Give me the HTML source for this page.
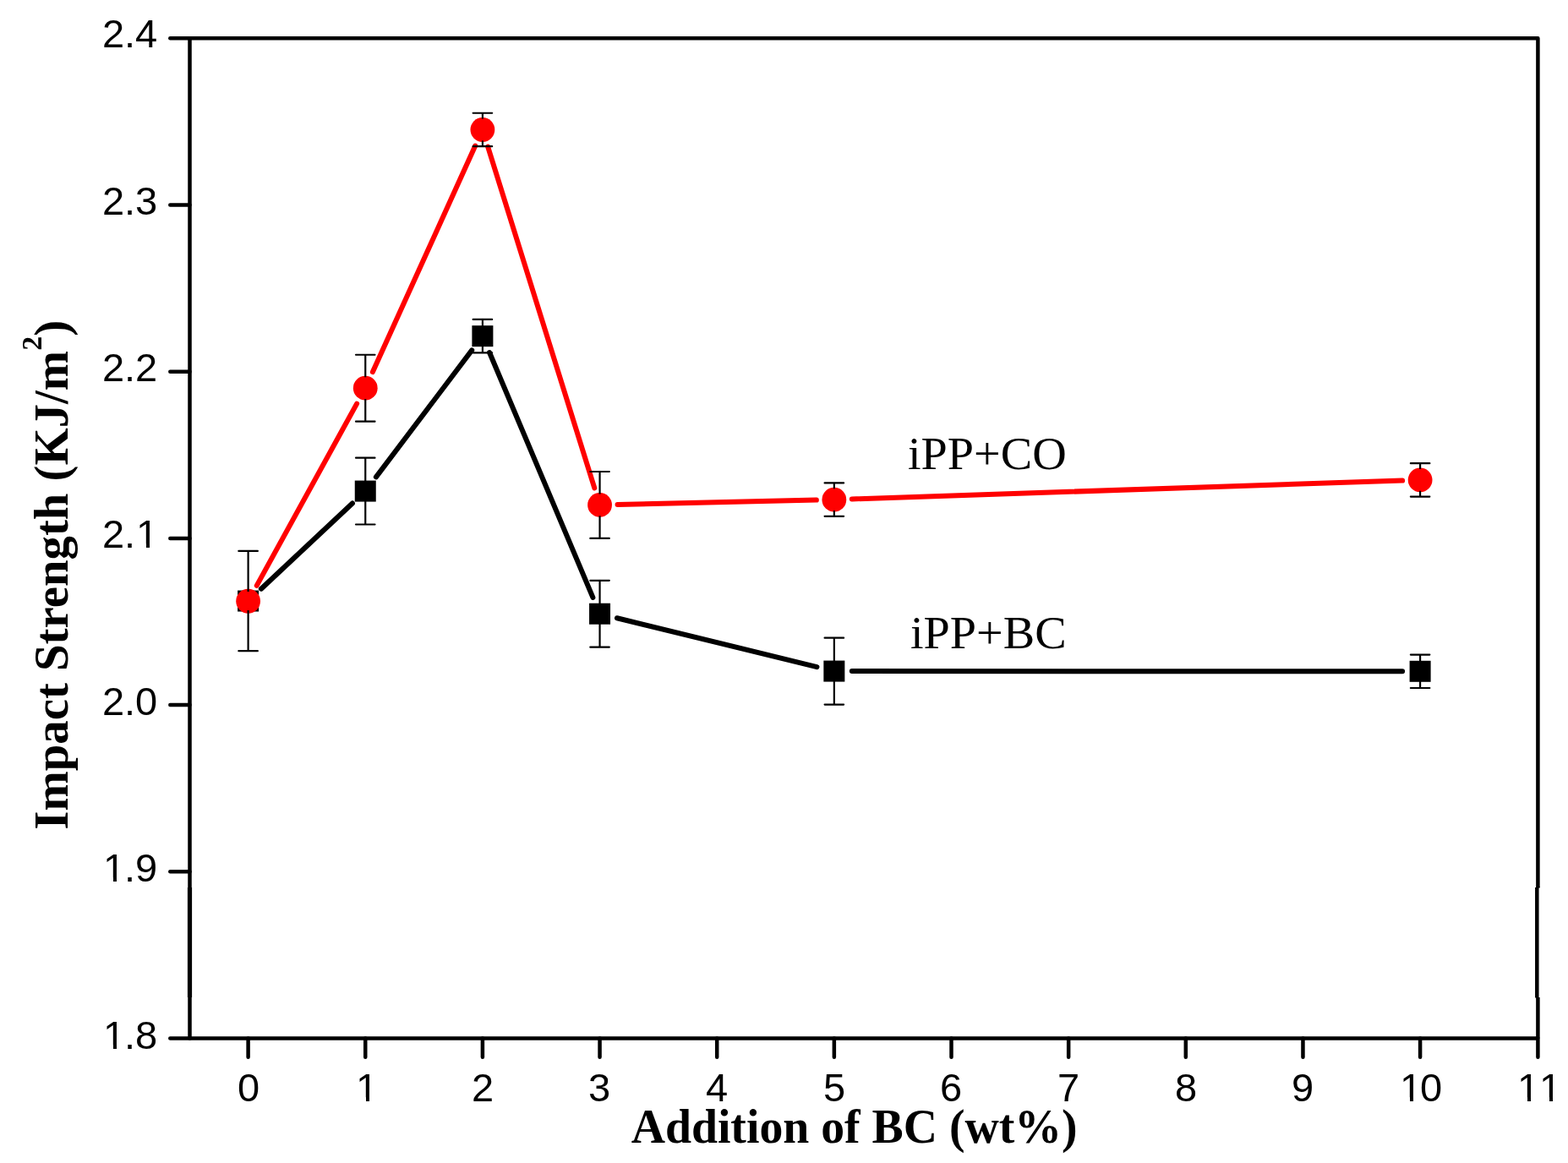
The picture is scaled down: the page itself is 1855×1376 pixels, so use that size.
<!DOCTYPE html>
<html><head><meta charset="utf-8"><title>Impact Strength</title>
<style>html,body{margin:0;padding:0;background:#fff;overflow:hidden;}svg{display:block;}</style></head>
<body>
<svg width="1855" height="1376" viewBox="0 0 1855 1376"><path d="M224.5 45.2H1819.4V1050M1819.4 1228.58H224.5V45.2" fill="none" stroke="#000" stroke-width="4.5" stroke-linejoin="round"/>
<path d="M1819.4 1049V1050.5M1818.3 1050V1180.5M1819.4 1180V1228.58" fill="none" stroke="#000" stroke-width="4.5"/>
<rect x="221.9" y="1050" width="5.2" height="130" fill="#000"/>
<g stroke="#000" stroke-width="4.5" stroke-linecap="round"><line x1="201.3" y1="1228.58" x2="224.5" y2="1228.58"/><line x1="201.3" y1="1031.35" x2="224.5" y2="1031.35"/><line x1="201.3" y1="834.12" x2="224.5" y2="834.12"/><line x1="201.3" y1="636.89" x2="224.5" y2="636.89"/><line x1="201.3" y1="439.66" x2="224.5" y2="439.66"/><line x1="201.3" y1="242.43" x2="224.5" y2="242.43"/><line x1="201.3" y1="45.2" x2="224.5" y2="45.2"/><line x1="293.6" y1="1228.58" x2="293.6" y2="1250.78"/><line x1="432.25" y1="1228.58" x2="432.25" y2="1250.78"/><line x1="570.9" y1="1228.58" x2="570.9" y2="1250.78"/><line x1="709.55" y1="1228.58" x2="709.55" y2="1250.78"/><line x1="848.2" y1="1228.58" x2="848.2" y2="1250.78"/><line x1="986.85" y1="1228.58" x2="986.85" y2="1250.78"/><line x1="1125.5" y1="1228.58" x2="1125.5" y2="1250.78"/><line x1="1264.15" y1="1228.58" x2="1264.15" y2="1250.78"/><line x1="1402.8" y1="1228.58" x2="1402.8" y2="1250.78"/><line x1="1541.45" y1="1228.58" x2="1541.45" y2="1250.78"/><line x1="1680.1" y1="1228.58" x2="1680.1" y2="1250.78"/><line x1="1819.4" y1="1228.58" x2="1819.4" y2="1250.78"/></g>
<g font-family="Liberation Sans, Arial, sans-serif" font-size="47" fill="#000" style="font-kerning:none"><text x="122 147 160" y="1241">1.8</text><text x="122 147 160" y="1043">1.9</text><text x="121 147 160" y="846">2.0</text><text x="121 147 161" y="648">2.1</text><text x="121 147 160" y="451">2.2</text><text x="121 147 160" y="254">2.3</text><text x="121 147 160" y="56">2.4</text><text x="281" y="1303">0</text><text x="421" y="1303">1</text><text x="558" y="1303">2</text><text x="696" y="1303">3</text><text x="835" y="1303">4</text><text x="974" y="1303">5</text><text x="1112" y="1303">6</text><text x="1251" y="1303">7</text><text x="1390" y="1303">8</text><text x="1528" y="1303">9</text><text x="1656 1680" y="1303">10</text><text x="1795 1821" y="1303">11</text></g>
<g fill="#fff"><rect x="124.3" y="1236.2" width="9.7" height="5.6"/><rect x="138.0" y="1236.2" width="8.6" height="5.6"/><rect x="124.3" y="1038.2" width="9.7" height="5.6"/><rect x="138.0" y="1038.2" width="8.6" height="5.6"/><rect x="163.3" y="643.2" width="9.7" height="5.6"/><rect x="177.0" y="643.2" width="8.6" height="5.6"/><rect x="423.3" y="1298.2" width="9.7" height="5.6"/><rect x="437.0" y="1298.2" width="8.6" height="5.6"/><rect x="1658.3" y="1298.2" width="9.7" height="5.6"/><rect x="1672.0" y="1298.2" width="8.6" height="5.6"/><rect x="1797.3" y="1298.2" width="9.7" height="5.6"/><rect x="1811.0" y="1298.2" width="8.6" height="5.6"/><rect x="1823.3" y="1298.2" width="9.7" height="5.6"/><rect x="1837.0" y="1298.2" width="8.6" height="5.6"/></g>
<text transform="translate(1010.6,1352) scale(0.978,1)" text-anchor="middle" font-family="Liberation Serif, Times New Roman, serif" font-weight="bold" font-size="57">Addition of BC (wt%)</text>
<text transform="translate(80,680.3) rotate(-90)" text-anchor="middle" font-family="Liberation Serif, Times New Roman, serif" font-weight="bold" font-size="56.8">Impact Strength (KJ/m<tspan font-size="34" dy="-31">2</tspan><tspan dy="31">)</tspan></text>
<g font-family="Liberation Serif, Times New Roman, serif" font-size="54" fill="#000"><text transform="translate(1074,555) scale(1.04,1)">iPP+CO</text><text transform="translate(1077,767) scale(1.04,1)">iPP+BC</text></g>
<g stroke="#000" stroke-width="6.0" stroke-linecap="round"><line x1="308.92" y1="696.69" x2="416.93" y2="595.44"/><line x1="444.91" y1="564.32" x2="558.24" y2="414.4"/><line x1="579.06" y1="417" x2="701.39" y2="706.89"/><line x1="729.95" y1="731.23" x2="966.45" y2="789.09"/><line x1="1007.85" y1="794.09" x2="1659.1" y2="794.27"/></g>
<g stroke="#ff0000" stroke-width="6.0" stroke-linecap="round"><line x1="303.72" y1="692.85" x2="422.13" y2="477.59"/><line x1="440.92" y1="440.06" x2="562.23" y2="172.6"/><line x1="577.16" y1="173.52" x2="703.29" y2="577.4"/><line x1="730.54" y1="596.97" x2="965.86" y2="591.61"/><line x1="1007.84" y1="590.43" x2="1659.11" y2="568.56"/></g>
<g fill="#000"><rect x="281.1" y="698.55" width="25.0" height="25.0"/><rect x="419.75" y="568.57" width="25.0" height="25.0"/><rect x="558.4" y="385.15" width="25.0" height="25.0"/><rect x="697.05" y="713.74" width="25.0" height="25.0"/><rect x="974.35" y="781.58" width="25.0" height="25.0"/><rect x="1667.6" y="781.78" width="25.0" height="25.0"/></g>
<g fill="#ff0000"><circle cx="293.6" cy="711.25" r="14.4"/><circle cx="432.25" cy="459.19" r="14.4"/><circle cx="570.9" cy="153.48" r="14.4"/><circle cx="709.55" cy="597.44" r="14.4"/><circle cx="986.85" cy="591.13" r="14.4"/><circle cx="1680.1" cy="567.86" r="14.4"/></g>
<g stroke="#000" stroke-width="2.2"><line x1="293.6" y1="651.88" x2="293.6" y2="700.05"/><line x1="293.6" y1="722.05" x2="293.6" y2="770.22"/><line x1="282.35" y1="651.88" x2="304.85" y2="651.88" stroke-linecap="round"/><line x1="282.35" y1="770.22" x2="304.85" y2="770.22" stroke-linecap="round"/><line x1="432.25" y1="541.63" x2="432.25" y2="570.07"/><line x1="432.25" y1="592.07" x2="432.25" y2="620.52"/><line x1="421" y1="541.63" x2="443.5" y2="541.63" stroke-linecap="round"/><line x1="421" y1="620.52" x2="443.5" y2="620.52" stroke-linecap="round"/><line x1="570.9" y1="377.93" x2="570.9" y2="386.65"/><line x1="570.9" y1="408.65" x2="570.9" y2="417.37"/><line x1="559.65" y1="377.93" x2="582.15" y2="377.93" stroke-linecap="round"/><line x1="559.65" y1="417.37" x2="582.15" y2="417.37" stroke-linecap="round"/><line x1="709.55" y1="686.79" x2="709.55" y2="715.24"/><line x1="709.55" y1="737.24" x2="709.55" y2="765.68"/><line x1="698.3" y1="686.79" x2="720.8" y2="686.79" stroke-linecap="round"/><line x1="698.3" y1="765.68" x2="720.8" y2="765.68" stroke-linecap="round"/><line x1="986.85" y1="754.64" x2="986.85" y2="783.08"/><line x1="986.85" y1="805.08" x2="986.85" y2="833.53"/><line x1="975.6" y1="754.64" x2="998.1" y2="754.64" stroke-linecap="round"/><line x1="975.6" y1="833.53" x2="998.1" y2="833.53" stroke-linecap="round"/><line x1="1680.1" y1="774.56" x2="1680.1" y2="783.28"/><line x1="1680.1" y1="805.28" x2="1680.1" y2="814"/><line x1="1668.85" y1="774.56" x2="1691.35" y2="774.56" stroke-linecap="round"/><line x1="1668.85" y1="814" x2="1691.35" y2="814" stroke-linecap="round"/></g>
<g stroke="#000" stroke-width="2.2"><line x1="432.25" y1="419.74" x2="432.25" y2="446.29"/><line x1="432.25" y1="472.09" x2="432.25" y2="498.63"/><line x1="421" y1="419.74" x2="443.5" y2="419.74" stroke-linecap="round"/><line x1="421" y1="498.63" x2="443.5" y2="498.63" stroke-linecap="round"/><line x1="570.9" y1="133.76" x2="570.9" y2="140.58"/><line x1="570.9" y1="166.38" x2="570.9" y2="173.2"/><line x1="559.65" y1="133.76" x2="582.15" y2="133.76" stroke-linecap="round"/><line x1="559.65" y1="173.2" x2="582.15" y2="173.2" stroke-linecap="round"/><line x1="709.55" y1="558" x2="709.55" y2="584.54"/><line x1="709.55" y1="610.34" x2="709.55" y2="636.89"/><line x1="698.3" y1="558" x2="720.8" y2="558" stroke-linecap="round"/><line x1="698.3" y1="636.89" x2="720.8" y2="636.89" stroke-linecap="round"/><line x1="986.85" y1="571.41" x2="986.85" y2="578.23"/><line x1="986.85" y1="604.03" x2="986.85" y2="610.86"/><line x1="975.6" y1="571.41" x2="998.1" y2="571.41" stroke-linecap="round"/><line x1="975.6" y1="610.86" x2="998.1" y2="610.86" stroke-linecap="round"/><line x1="1680.1" y1="548.14" x2="1680.1" y2="554.96"/><line x1="1680.1" y1="580.76" x2="1680.1" y2="587.58"/><line x1="1668.85" y1="548.14" x2="1691.35" y2="548.14" stroke-linecap="round"/><line x1="1668.85" y1="587.58" x2="1691.35" y2="587.58" stroke-linecap="round"/></g></svg>
</body></html>
